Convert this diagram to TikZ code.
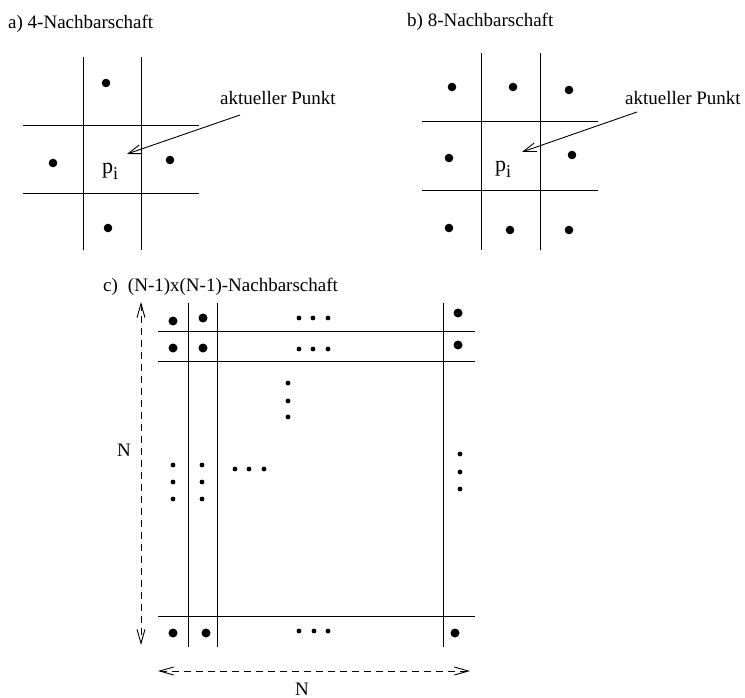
\documentclass[tikz,border=0pt]{standalone}
\usepackage{fontspec}
\setmainfont{Liberation Serif}
\usetikzlibrary{arrows.meta}

\tikzset{
  gridline/.style={line width=0.9pt},
  pointer/.style={line width=0.9pt,-{Straight Barb[length=13pt,width=9pt]}},
  measure/.style={line width=0.9pt,dash pattern=on 7pt off 5pt,
    {Straight Barb[length=14pt,width=8pt]}-{Straight Barb[length=14pt,width=8pt]}},
  lbl/.style={font=\fontsize{19}{22}\selectfont,inner sep=0pt}
}
\newcommand{\pidx}{{\fontsize{22}{22}\selectfont p}\lower6pt\hbox{\fontsize{18}{18}\selectfont i}}

\begin{document}
\begin{tikzpicture}[x=1pt,y=-1pt]
  \useasboundingbox (0,0) rectangle (745,698);

  % a) 4-Nachbarschaft
  \node[lbl,anchor=west] (titleA) at (8,24) {a) 4-Nachbarschaft};
  \draw[gridline] (83,57) -- (83,250) (141,57) -- (141,250)
    (23,125) -- (199,125) (23,193) -- (199,193);
  \foreach \x/\y in {106/83, 53/163, 170/160, 108/228}
    \fill (\x,\y) circle (4.3);
  \node[lbl] (pA) at (110,171) {\pidx};
  \node[lbl,anchor=west] (curA) at (220,98) {aktueller Punkt};
  \coordinate (tailA) at (240,115);
  \coordinate (headA) at (127,154);
  \draw[pointer] (tailA) -- (headA);

  % b) 8-Nachbarschaft
  \node[lbl,anchor=west] (titleB) at (407,22) {b) 8-Nachbarschaft};
  \draw[gridline] (481,53) -- (481,250) (540,53) -- (540,250)
    (422,121) -- (598,121) (422,190) -- (598,190);
  \foreach \x/\y in {452/87, 513/87, 569/90, 449/158, 572/155,
                     449/228, 510/230, 569/230}
    \fill (\x,\y) circle (4.3);
  \node[lbl] (pB) at (503,169) {\pidx};
  \node[lbl,anchor=west] (curB) at (625,98) {aktueller Punkt};
  \coordinate (tailB) at (637,112);
  \coordinate (headB) at (522,152);
  \draw[pointer] (tailB) -- (headB);

  % c) (N-1)x(N-1)-Nachbarschaft
  \node[lbl,anchor=west] (titleC) at (103,287)
    {c)\hspace{10pt}(N-1)x(N-1)-Nachbarschaft};
  \draw[gridline] (188,303) -- (188,647) (217,303) -- (217,647)
    (443,303) -- (443,647)
    (158,331) -- (475,331) (158,361) -- (475,361) (158,616) -- (475,616);
  \foreach \x/\y in {173/321, 203/318, 458/313, 173/348, 203/348, 458/345,
                     173/633, 206/633, 455/633}
    \fill (\x,\y) circle (4.5);
  \foreach \x/\y in {299/318, 313/318, 328/318, 299/349, 313/349, 328/349,
                     288/383, 288/401, 288/417,
                     173/465, 173/482, 173/499, 202/465, 202/482, 202/499,
                     235/469, 249/469, 264/469,
                     460/454, 460/472, 460/489,
                     299/631, 314/631, 328/631}
    \fill (\x,\y) circle (2.4);

  % Kantenlaenge N
  \coordinate (vTop) at (141,302);
  \coordinate (vBot) at (141,645);
  \coordinate (hLeft) at (158,671);
  \coordinate (hRight) at (470,671);
  \draw[measure] (vTop) -- (vBot);
  \draw[measure] (hLeft) -- (hRight);
  \node[lbl] (nV) at (124,450) {N};
  \node[lbl] (nH) at (302,689) {N};
\end{tikzpicture}
\end{document}
